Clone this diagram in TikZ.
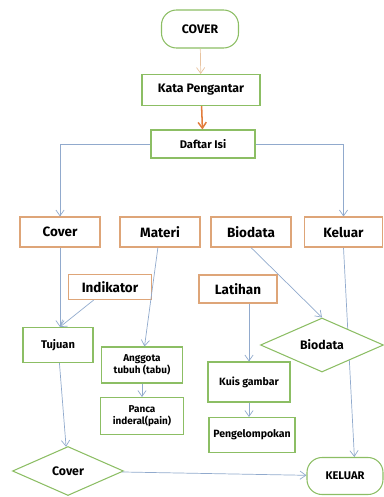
\documentclass[tikz,border=0pt]{standalone}
\usepackage{fontspec}
\setmainfont{Fira Sans}
\usetikzlibrary{shapes.geometric,arrows.meta,backgrounds}
\definecolor{boxgreen}{RGB}{140,190,100}
\definecolor{boxorange}{RGB}{222,165,120}
\definecolor{linkblue}{RGB}{145,170,205}
\definecolor{tan}{RGB}{232,195,160}
\definecolor{deeporange}{RGB}{226,125,60}
\begin{document}
\begin{tikzpicture}[
    x=0.03cm, y=-0.03cm,
    gbox/.style={draw=boxgreen, line width=0.9pt, fill=white, font=\bfseries\fontsize{9.5}{10}\selectfont,
                 align=center, inner sep=1pt},
    obox/.style={draw=boxorange, line width=0.9pt, fill=white, font=\bfseries\fontsize{11.5}{12}\selectfont,
                 minimum width=2.4cm, minimum height=0.9cm, inner sep=1pt},
    term/.style={gbox, rounded corners=0.45cm, font=\bfseries\fontsize{10.5}{12}\selectfont},
    choice/.style={diamond, draw=boxgreen, line width=0.9pt, fill=white, inner sep=0pt,
                   font=\bfseries\fontsize{10.5}{12}\selectfont},
    arr/.style={-{Straight Barb[length=5pt,width=7pt]}, draw=linkblue, line width=0.6pt}
  ]
  \useasboundingbox (0,0) rectangle (383,497);

  % top
  \node[term, minimum width=2.31cm, minimum height=1.14cm] (cover) at (200,29) {COVER};
  \node[gbox, minimum width=3.54cm, minimum height=0.93cm, font=\bfseries\fontsize{10.5}{12}\selectfont]
    (kata) at (201,90) {Kata Pengantar};
  \node[gbox, minimum width=3.12cm, minimum height=0.84cm] (daftar) at (203,144) {Daftar Isi};

  % menu row
  \node[obox] (covb) at (60,232) {Cover};
  \node[obox] (materi) at (160,232) {Materi};
  \node[obox] (biodata) at (251,232) {Biodata};
  \node[obox, minimum width=2.34cm] (keluar) at (343.5,232) {Keluar};

  \node[obox, minimum width=2.49cm, minimum height=0.75cm] (indikator) at (110,287) {Indikator};
  \node[obox, minimum width=2.34cm, minimum height=0.84cm] (latihan) at (238,289) {Latihan};

  % lower part
  \node[gbox, minimum width=2.1cm, minimum height=1.05cm] (tujuan) at (58,345) {Tujuan};
  \node[gbox, minimum width=2.43cm, minimum height=1.08cm, font=\bfseries\fontsize{8.5}{10.5}\selectfont]
    (anggota) at (142,365) {Anggota\\tubuh (tabu)};
  \node[gbox, minimum width=2.49cm, minimum height=1.11cm, font=\bfseries\fontsize{8.5}{10.5}\selectfont]
    (panca) at (142,416) {Panca\\inderal(pain)};
  \node[gbox, minimum width=2.46cm, minimum height=1.2cm, font=\bfseries\fontsize{9}{10}\selectfont]
    (kuis) at (249,382) {Kuis gambar};
  \node[gbox, minimum width=2.58cm, minimum height=1.05cm, font=\bfseries\fontsize{9}{10}\selectfont]
    (pengel) at (252,435) {Pengelompokan};

  \node[choice, minimum width=3.69cm, minimum height=1.62cm] (biodia) at (322,345) {Biodata};
  \node[choice, minimum width=3.33cm, minimum height=1.47cm] (covdia) at (68,471) {Cover};
  \node[term, minimum width=2.28cm, minimum height=1.11cm, font=\bfseries\fontsize{9.5}{11}\selectfont]
    (keluarb) at (345,476) {KELUAR};

  % links
  \draw[arr, draw=tan] (cover) -- (kata);
  \draw[arr, draw=deeporange, line width=1.3pt] (kata) -- (daftar);
  \draw[arr] (daftar) -| (covb);
  \draw[arr] (daftar) -| (keluar);
  \draw[arr] (covb) -- (tujuan.north -| covb);
  \draw[arr] (indikator) -- (tujuan.north -| covb);
  \draw[arr] (materi) -- (anggota);
  \draw[arr] (anggota) -- (panca);
  \draw[arr] (biodata.south) -- (biodia.north);
  \begin{pgfonlayer}{background}
    \draw[arr] (keluar.south) -- ([xshift=8]keluarb.north);
  \end{pgfonlayer}
  \draw[arr] (tujuan) -- (covdia);
  \draw[arr] (latihan.south -| kuis.north) -- (kuis.north);
  \draw[arr] (kuis) -- (kuis |- pengel.north);
  \draw[arr] (covdia) -- (keluarb);
\end{tikzpicture}
\end{document}
